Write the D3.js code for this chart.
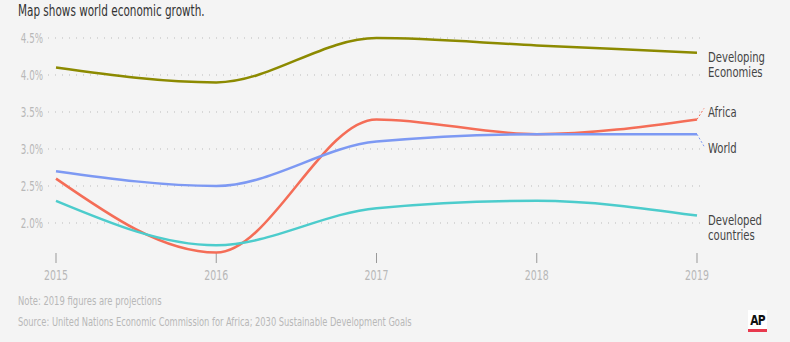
<!DOCTYPE html>
<html>
<head>
<meta charset="utf-8">
<script src="https://cdn.jsdelivr.net/npm/d3@7"></script>
<style>
  body { margin: 0; background: #f4f4f4; }
  svg { display: block; }
  text { font-family: "DejaVu Sans Condensed", "DejaVu Sans", sans-serif; font-stretch: condensed; }
</style>
</head>
<body>
<svg id="chart" width="790" height="342"></svg>
<script>
// Chart data
var years = [2015, 2016, 2017, 2018, 2019];
var developing = [4.1, 3.9, 4.5, 4.4, 4.3];
var africa = [2.6, 1.6, 3.4, 3.2, 3.4];
var world = [2.7, 2.5, 3.1, 3.2, 3.2];
var developed = [2.3, 1.7, 2.2, 2.3, 2.1];
var yTicks = [2.0, 2.5, 3.0, 3.5, 4.0, 4.5];

var series = [
  { name: ["Developing", "Economies"], values: developing, color: "#8c8a00", dy: 9, link: false },
  { name: ["Africa"], values: africa, color: "#f46d57", dy: -2, link: true },
  { name: ["World"], values: world, color: "#7d99f3", dy: 19, link: true },
  { name: ["Developed", "countries"], values: developed, color: "#4ccccc", dy: 9, link: false }
];

var svg = d3.select("#chart");

var x = d3.scaleLinear().domain([2015, 2019]).range([56, 697]);
var y = d3.scaleLinear().domain([2.0, 4.5]).range([223, 38]);

// condensed text helper (squeeze horizontally to mimic the narrow AP font)
function addText(g, tx, ty, str, size, sx, color, anchor) {
  return g.append("text")
    .attr("transform", "translate(" + tx + "," + ty + ") scale(" + sx + ",1)")
    .attr("text-anchor", anchor || "start")
    .attr("fill", color)
    .style("font-size", size + "px")
    .text(str);
}

// Title
addText(svg, 18, 16, "Map shows world economic growth.", 15.5, 0.75, "#333");

// Grid lines and y labels
var yAxis = svg.append("g");
yTicks.forEach(function (t) {
  yAxis.append("line")
    .attr("x1", 48).attr("x2", 706)
    .attr("y1", y(t)).attr("y2", y(t))
    .attr("stroke", "#bbb")
    .attr("stroke-width", 1)
    .attr("stroke-dasharray", "1,6");
  addText(yAxis, 43, y(t) + 5, t.toFixed(1) + "%", 13.5, 0.72, "#b8b8b8", "end");
});

// X axis ticks
var xAxis = svg.append("g");
years.forEach(function (yr) {
  xAxis.append("line")
    .attr("x1", x(yr)).attr("x2", x(yr))
    .attr("y1", 253).attr("y2", 263)
    .attr("stroke", "#999");
  addText(xAxis, x(yr), 280, yr, 14.5, 0.72, "#b8b8b8", "middle");
});

var line = d3.line()
  .x(function (d, i) { return x(years[i]); })
  .y(function (d) { return y(d); })
  .curve(d3.curveMonotoneX);

series.forEach(function (s) {
  svg.append("path")
    .attr("d", line(s.values))
    .attr("fill", "none")
    .attr("stroke", s.color)
    .attr("stroke-width", 2.5);

  var ey = y(s.values[s.values.length - 1]);
  var ly = ey + s.dy;
  if (s.link) {
    svg.append("line")
      .attr("x1", x(2019)).attr("y1", ey)
      .attr("x2", 704).attr("y2", s.dy < 0 ? ly - 9 : ly - 7)
      .attr("stroke", s.color)
      .attr("stroke-width", 1)
      .attr("stroke-dasharray", "2,2");
  }
  s.name.forEach(function (n, i) {
    addText(svg, 708, ly + i * 15.5, n, 14, 0.8, "#444");
  });
});

// Footer
addText(svg, 18, 305, "Note: 2019 figures are projections", 12, 0.78, "#b8b8b8");
addText(svg, 18, 326, "Source: United Nations Economic Commission for Africa; 2030 Sustainable Development Goals", 12, 0.77, "#b8b8b8");

// AP logo
var logo = svg.append("g");
logo.append("rect")
  .attr("x", 748).attr("y", 310).attr("width", 19).attr("height", 22)
  .attr("fill", "#fff");
addText(logo, 757.5, 325, "AP", 14, 0.85, "#111", "middle")
  .style("font-weight", "bold")
  .style("letter-spacing", "-1px");
logo.append("rect")
  .attr("x", 748).attr("y", 329).attr("width", 19).attr("height", 3)
  .attr("fill", "#e8394e");
</script>
</body>
</html>
